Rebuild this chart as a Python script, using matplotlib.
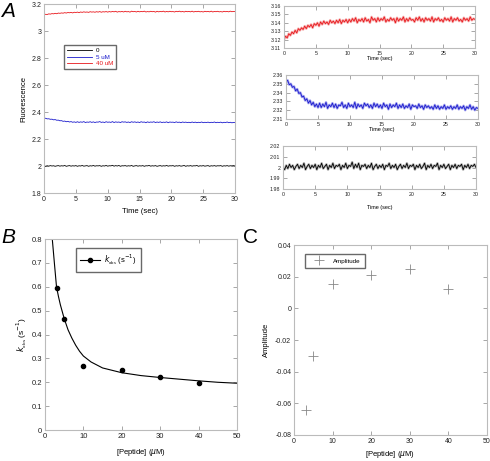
import numpy as np
import matplotlib
matplotlib.use("Agg")
import matplotlib.pyplot as plt
from matplotlib.ticker import FuncFormatter

plt.rcParams['font.family'] = ['Liberation Sans', 'DejaVu Sans']

# ---- data ----
time = np.linspace(0, 30, 121)  # sampling grid, 0.25 s

red_40uM = [3.120, 3.124, 3.122, 3.127, 3.125, 3.129, 3.127, 3.131, 3.128, 3.133,
            3.131, 3.134, 3.132, 3.136, 3.133, 3.137, 3.135, 3.138, 3.134, 3.139,
            3.137, 3.140, 3.136, 3.141, 3.138, 3.142, 3.139, 3.141, 3.138, 3.143,
            3.140, 3.142, 3.139, 3.143, 3.140, 3.144, 3.139, 3.143, 3.141, 3.144,
            3.140,
            3.144, 3.141, 3.145, 3.142, 3.146, 3.140, 3.144, 3.142, 3.145, 3.141,
            3.146, 3.142, 3.144, 3.140, 3.147, 3.143, 3.145, 3.141, 3.146, 3.142,
            3.145, 3.143, 3.147, 3.141, 3.144, 3.142, 3.146, 3.143, 3.145, 3.140,
            3.146, 3.142, 3.145, 3.143, 3.147, 3.141, 3.145, 3.142, 3.146, 3.143,
            3.144, 3.141, 3.146, 3.143, 3.147, 3.142, 3.145, 3.141, 3.146, 3.143,
            3.145, 3.142, 3.147, 3.141, 3.145, 3.143, 3.146, 3.142, 3.144, 3.141,
            3.146, 3.143, 3.145, 3.142, 3.147, 3.141, 3.145, 3.143, 3.146, 3.142,
            3.144, 3.141, 3.146, 3.143, 3.145, 3.142, 3.147, 3.143, 3.145, 3.144]

blue_5uM = [2.352, 2.354, 2.349, 2.350, 2.346, 2.347, 2.342, 2.344, 2.339, 2.340,
            2.335, 2.336, 2.331, 2.333, 2.328, 2.331, 2.326, 2.329, 2.324, 2.327,
            2.323,
            2.328, 2.323, 2.327, 2.324, 2.329, 2.322, 2.326, 2.324, 2.328, 2.323,
            2.327, 2.322, 2.326, 2.325, 2.329, 2.323, 2.326, 2.322, 2.328, 2.324,
            2.326, 2.323, 2.329, 2.322, 2.327, 2.324, 2.326, 2.322, 2.328, 2.325,
            2.327, 2.323, 2.326, 2.322, 2.328, 2.324, 2.327, 2.323, 2.326, 2.322,
            2.328, 2.324, 2.326, 2.321, 2.327, 2.323, 2.326, 2.324, 2.328, 2.322,
            2.326, 2.323, 2.327, 2.322, 2.325, 2.323, 2.327, 2.321, 2.326, 2.324,
            2.325, 2.322, 2.327, 2.323, 2.325, 2.321, 2.326, 2.323, 2.325, 2.322,
            2.324, 2.321, 2.326, 2.322, 2.325, 2.321, 2.324, 2.322, 2.326, 2.321,
            2.324, 2.322, 2.325, 2.321, 2.324, 2.322, 2.326, 2.321, 2.324, 2.322,
            2.325, 2.320, 2.324, 2.322, 2.326, 2.321, 2.324, 2.320, 2.323, 2.322]

black_0 = [2.000, 1.998, 2.002, 1.999, 2.003, 2.000, 2.002, 1.998, 2.001, 2.003,
           1.999, 2.002, 2.000, 2.004, 1.998, 2.001, 2.003, 1.999, 2.002, 2.000,
           2.003, 1.998, 2.002, 2.000, 2.004, 1.999, 2.001, 2.003, 1.998, 2.002,
           2.000, 2.004, 1.999, 2.002, 2.001, 2.003, 1.998, 2.002, 2.000, 2.004,
           1.999, 2.002, 2.001, 2.005, 1.999, 2.003, 2.000, 2.004, 1.998, 2.002,
           2.001, 2.003, 1.999, 2.002, 2.000, 2.004, 1.998, 2.001, 2.003, 1.999,
           2.002, 2.000, 2.003, 1.998, 2.002, 2.001, 2.004, 1.999, 2.002, 2.000,
           2.003, 1.998, 2.001, 2.003, 1.999, 2.002, 2.000, 2.004, 1.999, 2.002,
           2.001, 2.003, 1.998, 2.002, 2.000, 2.003, 1.999, 2.001, 2.004, 1.998,
           2.002, 2.000, 2.003, 1.999, 2.002, 2.001, 2.004, 1.998, 2.002, 2.000,
           2.003, 1.999, 2.001, 2.003, 1.998, 2.002, 2.000, 2.003, 1.999, 2.002,
           2.001, 2.003, 1.998, 2.002, 2.000, 2.003, 1.999, 2.002, 2.001, 2.003,
           2.000]

peptide = [3, 5, 10, 20, 30, 40]
kobs = [0.596, 0.467, 0.270, 0.250, 0.222, 0.198]
amplitude = [-0.0642, -0.0301, 0.0152, 0.0211, 0.0246, 0.0120]

fit_x = [1.9, 2.2, 2.5, 3, 3.5, 4, 5, 6, 7, 8, 9, 10, 12, 15, 20, 25, 30, 35, 40, 45, 50]
fit_y = [0.80, 0.745, 0.69, 0.60, 0.56, 0.525, 0.467, 0.42, 0.385, 0.355, 0.33, 0.31,
         0.285, 0.26, 0.24, 0.228, 0.220, 0.213, 0.206, 0.20, 0.196]

RED = '#e8161b'
BLUE = '#1a1acc'
SPINE = '#bbbbbb'
fmt = FuncFormatter(lambda v, p: '%g' % round(v, 6))


def style(ax, fs):
    for s in ax.spines.values():
        s.set_color(SPINE)
        s.set_linewidth(0.8)
    ax.tick_params(direction='in', top=True, right=True, length=3, width=0.6,
                   color='#999999', labelsize=fs, pad=2, labelcolor='#222222')
    ax.xaxis.set_major_formatter(fmt)
    ax.yaxis.set_major_formatter(fmt)


fig = plt.figure(figsize=(4.9, 4.61), dpi=100)

# ---- A main ----
axA = fig.add_axes([0.0898, 0.5813, 0.390, 0.410])
axA.plot(time, black_0, color='black', lw=0.6, label='0')
axA.plot(time, blue_5uM, color=BLUE, lw=0.6, label='5 uM')
axA.plot(time, red_40uM, color=RED, lw=0.6, label='40 uM')
axA.set_xlim(0, 30)
axA.set_ylim(1.8, 3.2)
axA.set_xticks(np.arange(0, 31, 5))
axA.set_yticks(np.arange(1.8, 3.21, 0.2))
style(axA, 5)
axA.set_xlabel('Time (sec)', fontsize=5.5, labelpad=4)
axA.set_ylabel('Fluorescence', fontsize=5.5, labelpad=3)
leg = axA.legend(loc='upper left', bbox_to_anchor=(0.09, 0.80), fontsize=4.5,
                 handlelength=4, labelcolor='linecolor', fancybox=False,
                 borderpad=0.5, labelspacing=0.15, handletextpad=0.5)
leg.get_frame().set_edgecolor('#444444')
leg.get_frame().set_linewidth(1.0)
fig.text(0.002, 0.995, 'A', fontsize=15, style='italic', va='top', ha='left')

# ---- insets ----
insets = [
    ([0.5796, 0.8959, 0.3898, 0.0911], red_40uM, RED, '#f6b0b0', (3.11, 3.16), 0.01),
    ([0.5837, 0.7419, 0.3918, 0.0954], blue_5uM, BLUE, '#a8a8f0', (2.31, 2.36), 0.01),
    ([0.5776, 0.5900, 0.3939, 0.0933], black_0, 'black', '#b8b8b8', (1.98, 2.02), 0.01),
]
for i, (pos, ydata, col, halo, ylim, step) in enumerate(insets):
    ax = fig.add_axes(pos)
    ax.plot(time, ydata, color=halo, lw=1.8)
    ax.plot(time, ydata, color=col, lw=0.6)
    ax.set_xlim(0, 30)
    ax.set_ylim(*ylim)
    ax.set_xticks(np.arange(0, 31, 5))
    ax.set_yticks(np.arange(ylim[0], ylim[1] + step / 2, step))
    style(ax, 3.8)
    ax.set_xlabel('Time (sec)', fontsize=4, labelpad=0 if i < 2 else 6)

# ---- B ----
axB = fig.add_axes([0.0918, 0.0672, 0.3918, 0.4143])
axB.plot(fit_x, fit_y, color='black', lw=0.8)
axB.plot(peptide, kobs, 'o', color='black', ms=3)
axB.plot([], [], '-o', color='black', ms=3, lw=0.8,
         label=r'$k_{_{\rm obs}}$ (s$^{-1}$)')
axB.set_xlim(0, 50)
axB.set_ylim(0, 0.8)
axB.set_xticks(np.arange(0, 51, 10))
axB.set_yticks(np.arange(0, 0.81, 0.1))
style(axB, 5.5)
axB.set_xlabel(r'[Peptide] ($\mu$M)', fontsize=5.5, labelpad=5)
axB.set_ylabel(r'$k_{_{\rm obs}}$ (s$^{-1}$)', fontsize=6, labelpad=2)
legB = axB.legend(loc='upper left', bbox_to_anchor=(0.14, 0.975), fontsize=5.5,
                  handlelength=2.6, fancybox=False, borderpad=0.6, handletextpad=0.5)
legB.get_frame().set_edgecolor('#444444')
legB.get_frame().set_linewidth(1.0)
fig.text(0.002, 0.505, 'B', fontsize=15, style='italic', va='top', ha='left')

# ---- C ----
axC = fig.add_axes([0.600, 0.0564, 0.3939, 0.412])
axC.plot(peptide, amplitude, '+', color='#888888', ms=7, mew=0.6, label='Amplitude')
axC.set_xlim(0, 50)
axC.set_ylim(-0.08, 0.04)
axC.set_xticks(np.arange(0, 51, 10))
axC.set_yticks(np.arange(-0.08, 0.041, 0.02))
style(axC, 5)
axC.set_xlabel(r'[Peptide] ($\mu$M)', fontsize=5.5, labelpad=3)
axC.set_ylabel('Amplitude', fontsize=5.5, labelpad=4)
legC = axC.legend(loc='upper left', bbox_to_anchor=(0.04, 0.97), fontsize=4.5,
                  handlelength=3, fancybox=False, borderpad=0.7, handletextpad=0.8)
legC.get_frame().set_edgecolor('#444444')
legC.get_frame().set_linewidth(1.0)
fig.text(0.496, 0.505, 'C', fontsize=15, va='top', ha='left')

fig.savefig('out.png', dpi=100)
